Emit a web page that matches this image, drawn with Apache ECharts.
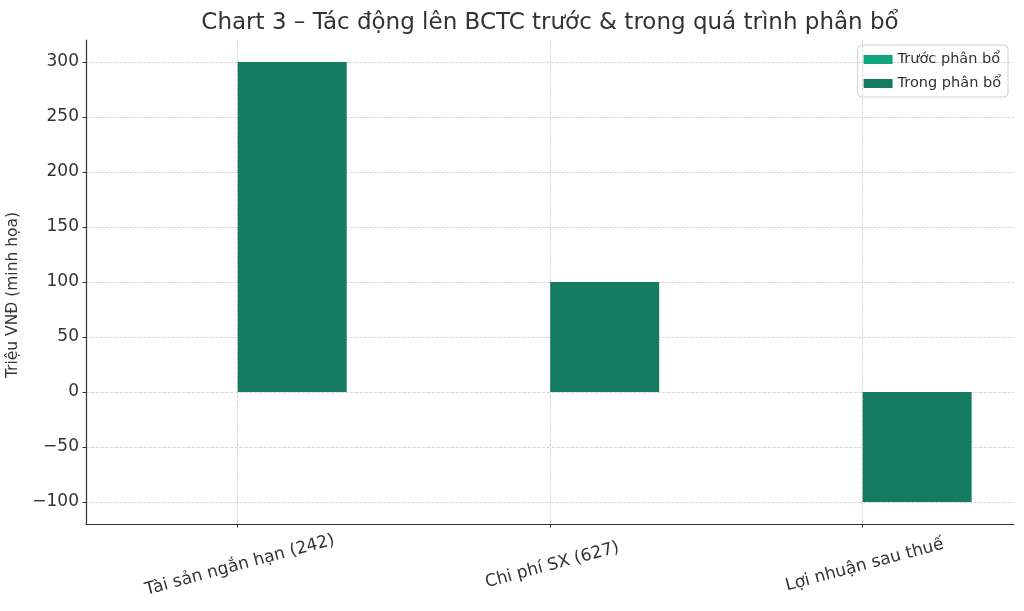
<!DOCTYPE html>
<html><head><meta charset="utf-8">
<script src="https://cdn.jsdelivr.net/npm/echarts@6/dist/echarts.min.js"></script>
<style>html,body{margin:0;padding:0;background:#fff}#c{width:1024px;height:611px}</style>
</head><body><div id="c"></div>
<script>
const categories = ['Tài sản ngắn hạn (242)', 'Chi phí SX (627)', 'Lợi nhuận sau thuế'];
const seriesNames = ['Trước phân bổ', 'Trong phân bổ'];
const beforeValues = [0, 0, 0];
const duringValues = [300, 100, -100];
const yTicks = [-100, -50, 0, 50, 100, 150, 200, 250, 300];
const xTicks = [0, 1, 2];

const barW = 0.35;
const font = 'DejaVu Sans';
const chart = echarts.init(document.getElementById('c'));
chart.setOption({
  animation: false,
  textStyle: {fontFamily: font},
  title: {text: 'Chart 3 – Tác động lên BCTC trước & trong quá trình phân bổ', left: 545, top: 7, textAlign: 'center',
    textStyle: {fontFamily: font, fontSize: 23, fontWeight: 'normal', color: '#333'}},
  legend: {right: 16, top: 45, orient: 'vertical', itemWidth: 29, itemHeight: 9, itemGap: 9, icon: 'rect',
    borderColor: '#d0d0d0', borderWidth: 1, borderRadius: 4, padding: [7, 7, 6, 6],
    textStyle: {fontFamily: font, fontSize: 14.5, color: '#333'}, data: seriesNames},
  grid: {left: 86, right: 10, top: 40, bottom: 87, outerBoundsMode: 'none'},
  xAxis: {type: 'value', min: -0.485, max: 2.485,
    axisLine: {show: true, onZero: false, lineStyle: {color: '#333', width: 1.2}},
    axisTick: {show: true, inside: false, customValues: xTicks, length: 3.5, lineStyle: {color: '#333'}},
    axisLabel: {customValues: xTicks, formatter: v => categories[Math.round(v)] || '', rotate: 15, align: 'center', verticalAlign: 'top', margin: 33,
      fontFamily: font, fontSize: 17, color: '#333'},
    splitLine: {show: true, lineStyle: {color: '#ccc', type: 'dashed', width: 0.8}}},
  yAxis: {type: 'value', min: -120, max: 320,
    name: 'Triệu VNĐ (minh họa)', nameLocation: 'middle', nameGap: 58, nameRotate: 90,
    nameTextStyle: {fontFamily: font, fontSize: 15.5, color: '#333', padding: [0, 26, 0, 0]},
    axisLine: {show: true, onZero: false, lineStyle: {color: '#333', width: 1.2}},
    axisTick: {show: true, inside: false, customValues: yTicks, length: 3.5, lineStyle: {color: '#333'}},
    axisLabel: {customValues: yTicks, fontFamily: font, fontSize: 17, color: '#333', margin: 7,
      formatter: v => (v < 0 ? '−' + Math.abs(v) : String(v))},
    splitLine: {show: true, lineStyle: {color: '#ccc', type: 'dashed', width: 0.8}}},
  series: [
    {name: seriesNames[0], type: 'bar', barWidth: 109, barGap: '-100%', itemStyle: {color: '#10a37f'},
      data: beforeValues.map((v, i) => [i - barW / 2, v])},
    {name: seriesNames[1], type: 'bar', barWidth: 109, barGap: '-100%', itemStyle: {color: '#147a62'},
      data: duringValues.map((v, i) => [i + barW / 2, v])}
  ]
});
</script></body></html>
